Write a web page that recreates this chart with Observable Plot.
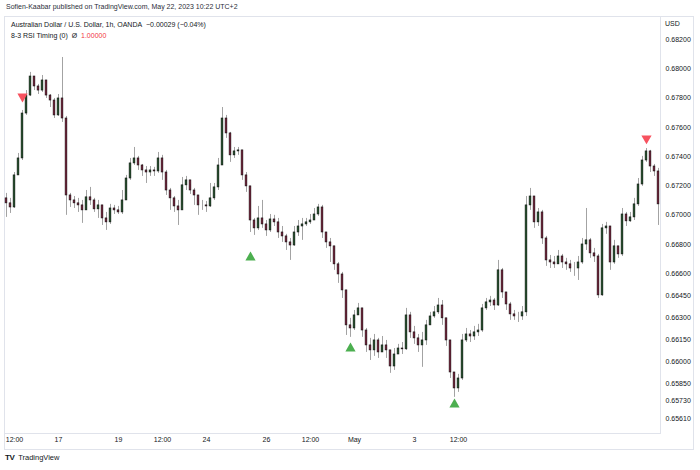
<!DOCTYPE html>
<html><head><meta charset="utf-8">
<script src="https://cdn.jsdelivr.net/npm/d3@7"></script>
<script src="https://cdn.jsdelivr.net/npm/@observablehq/plot@0.6"></script>
<style>
html,body{margin:0;padding:0;background:#fff;}
body{width:700px;height:470px;position:relative;overflow:hidden;font-family:"Liberation Sans",Arial,sans-serif;color:#131722;}
#pub{position:absolute;left:6px;top:3px;font-size:7px;color:#2a2e39;white-space:nowrap;}
#box{position:absolute;left:4px;top:16px;width:690px;height:434px;box-sizing:border-box;border:1px solid #e0e3eb;}
#chart{position:absolute;left:4px;top:16px;}
#legend{position:absolute;left:11px;top:19px;font-size:7px;line-height:11px;white-space:nowrap;color:#131722;}
#legend .red{color:#f23645;}
#usd{position:absolute;left:665px;top:20px;font-size:7px;color:#131722;}
#footer{position:absolute;left:5px;top:453px;font-size:7.5px;color:#131722;white-space:nowrap;}
#footer b{font-size:8px;letter-spacing:-0.5px;margin-right:2px;}
</style>
</head>
<body>
<div id="pub">Sofien-Kaabar published on TradingView.com, May 22, 2023 10:22 UTC+2</div>
<div id="box"></div>
<div id="chart"></div>
<div id="legend">
  <div>Australian Dollar / U.S. Dollar, 1h, OANDA&nbsp;&nbsp;−0.00029 (−0.04%)</div>
  <div>8-3 RSI Timing (0)&nbsp;&nbsp;Ø&nbsp;&nbsp;<span class="red">1.00000</span></div>
</div>
<div id="usd">USD</div>
<div id="footer"><b>TV</b> TradingView</div>
<script>
const firstOpen = 0.67114;
const closes = [0.67080,0.67052,0.67271,0.67387,0.67694,0.67817,0.67947,0.67879,0.67851,0.67920,
0.67817,0.67783,0.67681,0.67797,0.67660,0.67134,0.67100,0.67080,0.67066,0.67032,
0.67121,0.67100,0.67039,0.67066,0.66977,0.66950,0.67045,0.67032,0.67018,0.67100,
0.67250,0.67353,0.67387,0.67339,0.67305,0.67291,0.67305,0.67298,0.67387,0.67291,
0.67168,0.67114,0.67059,0.67032,0.67203,0.67237,0.67168,0.67134,0.67066,0.67066,
0.67059,0.67114,0.67189,0.67339,0.67660,0.67558,0.67408,0.67435,0.67442,0.67271,
0.67196,0.66963,0.66909,0.66977,0.66936,0.66895,0.66970,0.66950,0.66881,0.66854,
0.66813,0.66792,0.66881,0.66922,0.66936,0.66950,0.66963,0.67004,0.67052,0.66881,
0.66813,0.66786,0.66663,0.66594,0.66485,0.66246,0.66225,0.66314,0.66362,0.66211,
0.66109,0.66075,0.66143,0.66061,0.66109,0.66075,0.65965,0.66047,0.66088,0.66082,
0.66314,0.66198,0.66157,0.66109,0.66143,0.66246,0.66307,0.66335,0.66382,0.66294,
0.66143,0.65924,0.65815,0.65883,0.66143,0.66184,0.66170,0.66198,0.66211,0.66362,
0.66403,0.66416,0.66382,0.66622,0.66471,0.66389,0.66321,0.66307,0.66307,0.66335,
0.67066,0.67127,0.66950,0.67018,0.66840,0.66690,0.66676,0.66663,0.66717,0.66676,
0.66663,0.66635,0.66635,0.66676,0.66799,0.66827,0.66738,0.66717,0.66451,0.66909,
0.66922,0.66676,0.66786,0.66731,0.67004,0.66957,0.66984,0.67073,0.67209,0.67373,
0.67435,0.67332,0.67298,0.67073];
const highs = [0.67148,0.67114,0.67291,0.67421,0.67715,0.67851,0.67975,0.67947,0.67893,0.67954,
0.67920,0.67824,0.67797,0.67824,0.68077,0.67674,0.67148,0.67127,0.67114,0.67100,
0.67168,0.67189,0.67114,0.67100,0.67066,0.67018,0.67073,0.67066,0.67059,0.67168,
0.67271,0.67387,0.67462,0.67401,0.67346,0.67332,0.67332,0.67326,0.67428,0.67408,
0.67305,0.67182,0.67127,0.67100,0.67257,0.67264,0.67209,0.67182,0.67114,0.67100,
0.67093,0.67216,0.67216,0.67387,0.67735,0.67681,0.67565,0.67462,0.67462,0.67442,
0.67291,0.67196,0.66977,0.67059,0.67100,0.66963,0.67004,0.66998,0.66977,0.66922,
0.66868,0.66840,0.66922,0.66963,0.66977,0.66977,0.67004,0.67045,0.67073,0.67066,
0.66881,0.66840,0.66786,0.66676,0.66608,0.66485,0.66294,0.66348,0.66396,0.66362,
0.66225,0.66157,0.66184,0.66157,0.66170,0.66143,0.66075,0.66088,0.66116,0.66129,
0.66362,0.66335,0.66239,0.66184,0.66198,0.66280,0.66335,0.66375,0.66430,0.66416,
0.66294,0.66143,0.65924,0.65911,0.66184,0.66225,0.66211,0.66239,0.66253,0.66389,
0.66430,0.66444,0.66430,0.66690,0.66635,0.66471,0.66403,0.66348,0.66335,0.66375,
0.67127,0.67182,0.67127,0.67045,0.67032,0.66854,0.66724,0.66717,0.66758,0.66731,
0.66704,0.66690,0.66676,0.66717,0.66840,0.67045,0.66840,0.66772,0.66731,0.66936,
0.66950,0.66922,0.66827,0.66786,0.67045,0.67018,0.67018,0.67114,0.67250,0.67401,
0.67455,0.67442,0.67346,0.67319];
const lows = [0.66984,0.67011,0.67045,0.67271,0.67373,0.67681,0.67810,0.67851,0.67824,0.67838,
0.67797,0.67735,0.67660,0.67674,0.67633,0.66998,0.67052,0.67045,0.67018,0.66943,
0.67032,0.67066,0.67018,0.66977,0.66929,0.66895,0.66936,0.67004,0.67004,0.67004,
0.67100,0.67237,0.67339,0.67305,0.67264,0.67216,0.67264,0.67264,0.67285,0.67237,
0.67134,0.67032,0.67018,0.66929,0.67066,0.67168,0.67141,0.67066,0.66998,0.67032,
0.67018,0.67052,0.67100,0.67168,0.67339,0.67524,0.67360,0.67387,0.67408,0.67237,
0.67155,0.66881,0.66861,0.66895,0.66909,0.66854,0.66881,0.66922,0.66840,0.66813,
0.66758,0.66690,0.66786,0.66854,0.66827,0.66922,0.66936,0.66963,0.66991,0.66840,
0.66772,0.66676,0.66622,0.66533,0.66430,0.66177,0.66164,0.66211,0.66314,0.66164,
0.66061,0.66006,0.66034,0.66020,0.66061,0.66020,0.65918,0.65938,0.66061,0.66047,
0.66075,0.66157,0.66116,0.66061,0.65959,0.66109,0.66266,0.66294,0.66321,0.66246,
0.66102,0.65883,0.65754,0.65788,0.65870,0.66129,0.66129,0.66143,0.66170,0.66198,
0.66348,0.66375,0.66348,0.66375,0.66430,0.66348,0.66280,0.66280,0.66266,0.66280,
0.66307,0.67032,0.66909,0.66922,0.66799,0.66649,0.66635,0.66635,0.66663,0.66635,
0.66622,0.66608,0.66581,0.66553,0.66663,0.66758,0.66704,0.66676,0.66430,0.66444,
0.66868,0.66622,0.66663,0.66704,0.66717,0.66922,0.66950,0.66963,0.67059,0.67196,
0.67360,0.67291,0.67264,0.66929];
const sellIdx = [4, 160];
const sellLevel = [0.67810, 0.67524];
const buyIdx = [61, 86, 112];
const buyLevel = [0.66710, 0.66088, 0.65705];
const yTicks = [0.682,0.680,0.678,0.676,0.674,0.672,0.670,0.668,0.666,0.6645,0.663,0.6615,0.660,0.6585,0.6573,0.6561];
const xTickIdx = [2, 13, 28, 39, 50, 65, 76, 87, 102, 113];
const xTickLabels = ["12:00","17","19","12:00","24","26","12:00","May","3","12:00"];

const upColor = "#1f5a2a", downColor = "#861c3c";
const candles = closes.map((c, i) => ({i, open: i === 0 ? firstOpen : closes[i-1], close: c, high: highs[i], low: lows[i]}));
const sells = sellIdx.map((i, k) => ({i, level: sellLevel[k]}));
const buys = buyIdx.map((i, k) => ({i, level: buyLevel[k]}));
const labelMap = new Map(xTickIdx.map((t, k) => [t, xTickLabels[k]]));

const chart = Plot.plot({
  width: 690, height: 434,
  marginLeft: 0, marginTop: 0, marginRight: 34, marginBottom: 17,
  x: {domain: [-0.5, 163.5]},
  y: {domain: [0.655069, 0.683572]},
  style: {fontFamily: '"Liberation Sans", Arial, sans-serif', fontSize: "7px", color: "#131722", background: "transparent"},
  marks: [
    Plot.frame({stroke: "#e0e3eb"}),
    Plot.ruleX(candles, {x: "i", y1: "low", y2: "high", stroke: "#a3a3a3", strokeWidth: 1}),
    Plot.rect(candles, {x1: d => d.i - 0.22, x2: d => d.i + 0.22, y1: "open", y2: "close",
      fill: d => d.close >= d.open ? upColor : downColor, stroke: "#111", strokeWidth: 0.6}),
    Plot.dot(sells, {x: "i", y: "level", symbol: "triangle", rotate: 180, r: 3.8, fill: "#f7525f"}),
    Plot.dot(buys, {x: "i", y: "level", symbol: "triangle", r: 3.8, fill: "#4caf50"}),
    Plot.axisY({anchor: "right", ticks: yTicks, tickSize: 0, tickPadding: 5, tickFormat: d3.format(".5f"), label: null}),
    Plot.axisX({ticks: xTickIdx, tickSize: 0, tickPadding: 4, tickFormat: d => labelMap.get(d), label: null})
  ]
});
document.getElementById("chart").appendChild(chart);
</script>
</body></html>
